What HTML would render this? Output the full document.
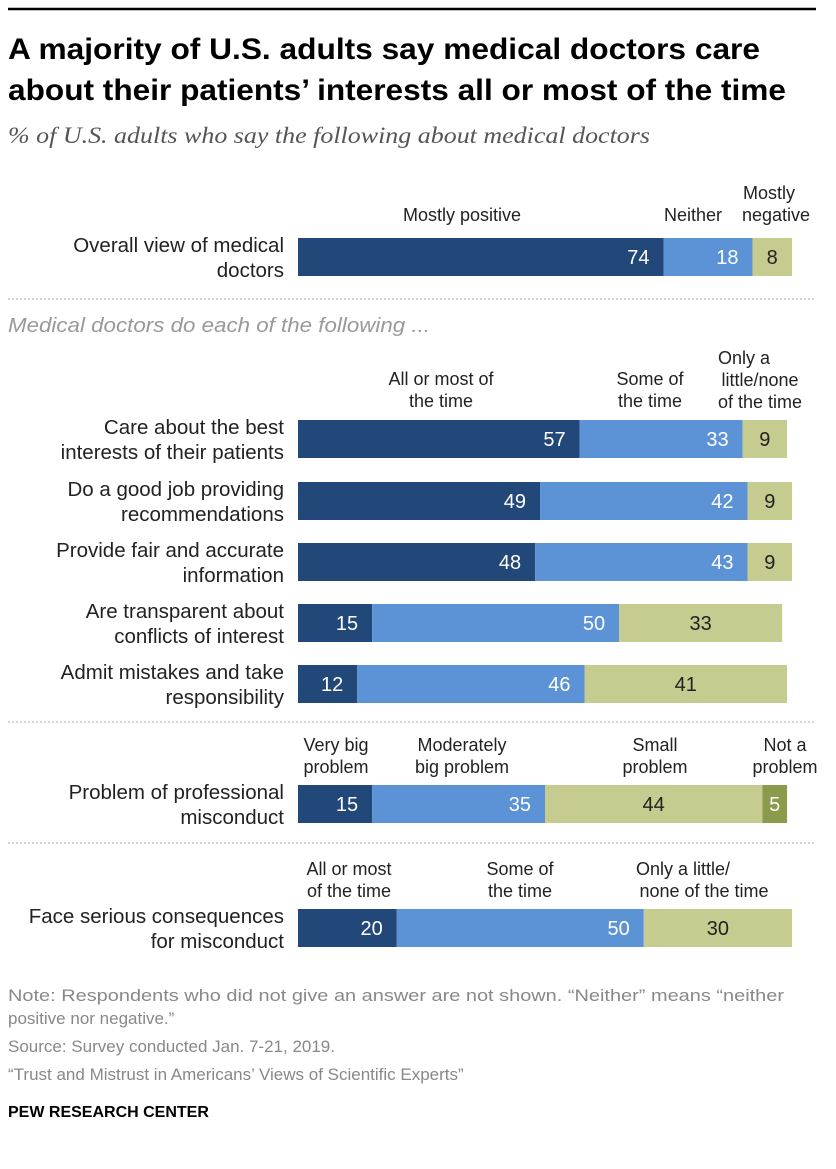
<!DOCTYPE html>
<html><head><meta charset="utf-8"><style>
body{margin:0;background:#fff;}
svg text{font-family:"Liberation Sans",sans-serif;}
</style></head><body>
<svg width="836" height="1164" xmlns="http://www.w3.org/2000/svg">
<line x1="8" y1="9" x2="816" y2="9" stroke="#000" stroke-width="2.5"/>
<text x="8" y="59" font-size="30" font-weight="bold" fill="#000" textLength="752" lengthAdjust="spacingAndGlyphs">A majority of U.S. adults say medical doctors care</text>
<text x="8" y="100" font-size="30" font-weight="bold" fill="#000" textLength="778" lengthAdjust="spacingAndGlyphs">about their patients’ interests all or most of the time</text>
<text x="8" y="143" font-size="23" font-style="italic" fill="#555" textLength="642" lengthAdjust="spacingAndGlyphs" style="font-family:'Liberation Serif',serif">% of U.S. adults who say the following about medical doctors</text>
<line x1="8" y1="299" x2="814" y2="299" stroke="#aaa" stroke-dasharray="2,2"/>
<text x="8" y="332" font-size="20" font-style="italic" fill="#999" textLength="422" lengthAdjust="spacingAndGlyphs">Medical doctors do each of the following ...</text>
<line x1="8" y1="722" x2="814" y2="722" stroke="#aaa" stroke-dasharray="2,2"/>
<line x1="8" y1="843" x2="814" y2="843" stroke="#aaa" stroke-dasharray="2,2"/>
<g id="heads" font-size="18" fill="#222" text-anchor="middle">
<text x="462" y="221">Mostly positive</text>
<text x="693" y="221">Neither</text>
<text x="776" y="199"><tspan x="769">Mostly</tspan><tspan x="776" dy="22">negative</tspan></text>
<text x="441" y="385"><tspan x="441">All or most of</tspan><tspan x="441" dy="22">the time</tspan></text>
<text x="650" y="385"><tspan x="650">Some of</tspan><tspan x="650" dy="22">the time</tspan></text>
<text x="760" y="364"><tspan x="744">Only a</tspan><tspan x="760" dy="22">little/none</tspan><tspan x="760" dy="22">of the time</tspan></text>
<text x="336" y="751"><tspan x="336">Very big</tspan><tspan x="336" dy="22">problem</tspan></text>
<text x="462" y="751"><tspan x="462">Moderately</tspan><tspan x="462" dy="22">big problem</tspan></text>
<text x="655" y="751"><tspan x="655">Small</tspan><tspan x="655" dy="22">problem</tspan></text>
<text x="785" y="751"><tspan x="785">Not a</tspan><tspan x="785" dy="22">problem</tspan></text>
<text x="349" y="875"><tspan x="349">All or most</tspan><tspan x="349" dy="22">of the time</tspan></text>
<text x="520" y="875"><tspan x="520">Some of</tspan><tspan x="520" dy="22">the time</tspan></text>
<text x="704" y="875"><tspan x="683">Only a little/</tspan><tspan x="704" dy="22">none of the time</tspan></text>
</g>
<g id="bars"></g>
<g font-size="17" fill="#888">
<text x="8" y="1001" textLength="776" lengthAdjust="spacingAndGlyphs">Note: Respondents who did not give an answer are not shown. “Neither” means “neither</text>
<text x="8" y="1024">positive nor negative.”</text>
<text x="8" y="1052">Source: Survey conducted Jan. 7-21, 2019.</text>
<text x="8" y="1080">“Trust and Mistrust in Americans’ Views of Scientific Experts”</text>
</g>
<text x="8" y="1117" font-size="16" font-weight="bold" fill="#000">PEW RESEARCH CENTER</text>
</svg>
<script>
const rowLabels=[["Overall view of medical","doctors"],["Care about the best","interests of their patients"],["Do a good job providing","recommendations"],["Provide fair and accurate","information"],["Are transparent about","conflicts of interest"],["Admit mistakes and take","responsibility"],["Problem of professional","misconduct"],["Face serious consequences","for misconduct"]];
const seg1=[74,57,49,48,15,12,15,20];
const seg2=[18,33,42,43,50,46,35,50];
const seg3=[8,9,9,9,33,41,44,30];
const seg4=[0,0,0,0,0,0,5,0];
const rowTops=[238,420,482,543,604,665,785,909];
const X0=298,K=4.94,H=38;
const g=document.getElementById('bars');
const NS="http://www.w3.org/2000/svg";
function x(v){return X0+v*K;}
const colors=["#214879","#5b93d6","#c6cc8f","#8b9b4c"];
const tcol=["#fff","#fff","#222","#fff"];
rowLabels.forEach((lab,i)=>{
  const top=rowTops[i];
  const t=document.createElementNS(NS,'text');
  
  
  t.setAttribute('text-anchor','end');t.setAttribute('font-size','20.5');t.setAttribute('fill','#222');
  lab.forEach((l,j)=>{const s=document.createElementNS(NS,'tspan');s.setAttribute('x',284);s.setAttribute('y',top+14+j*25);s.textContent=l;t.appendChild(s);});
  g.appendChild(t);
  const vals=[seg1[i],seg2[i],seg3[i],seg4[i]];
  let c=0;
  vals.forEach((v,k)=>{
    if(!v)return;
    const r=document.createElementNS(NS,'rect');
    
    
    r.setAttribute('x',x(c));r.setAttribute('y',top);r.setAttribute('width',v*K);r.setAttribute('height',H);r.setAttribute('fill',colors[k]);
    g.appendChild(r);
    const tx=document.createElementNS(NS,'text');
    
    
    tx.setAttribute('font-size','20');tx.setAttribute('fill',tcol[k]);
    if(k<2){tx.setAttribute('text-anchor','end');tx.setAttribute('x',x(c+v)-14);}
    else{tx.setAttribute('text-anchor','middle');tx.setAttribute('x',x(c+v/2));}
    tx.setAttribute('y',top+26);tx.textContent=v;
    g.appendChild(tx);
    c+=v;
  });
});
</script>
</body></html>
